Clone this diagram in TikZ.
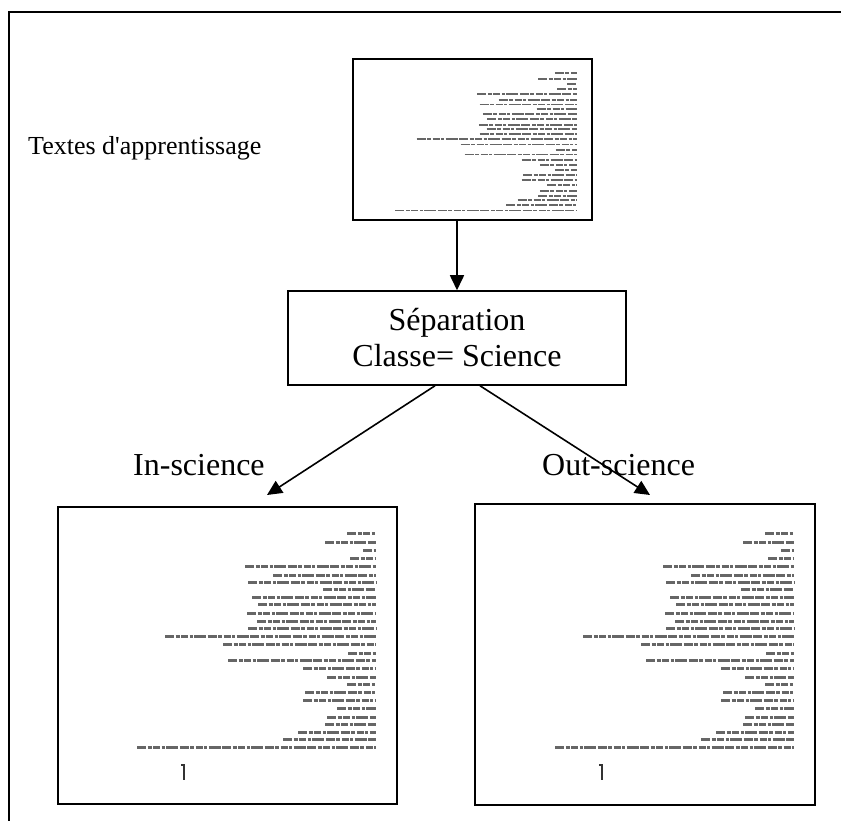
\documentclass[tikz,border=0pt]{standalone}
\usepackage{fontspec}
\setmainfont{Liberation Serif}
\usetikzlibrary{arrows.meta}

\tikzset{
    box/.style={draw, line width=1.5pt, inner sep=0pt},
    arr/.style={-{Triangle[length=15pt,width=14pt]}, line width=1.6pt},
    lbl/.style={anchor=base west, inner sep=0pt, font=\fontsize{32}{36}\selectfont},
    txtline/.style={line width=#1, black!60,
        dash pattern=on 9pt off 1.5pt on 4pt off 1.5pt on 7pt off 1.5pt on 3pt off 1.5pt on 12pt off 1.5pt},
}

% scanned page: right-aligned lines of text, anchored at the right end of the top line
\newcommand\docmarks[1]{%
    \foreach \dy/\len in {0/29, 9/51, 17.3/13, 25/26, 33.3/131, 42.3/103, 49.3/128,
        56.7/53, 64/124, 71.7/118, 80.7/129, 88/119, 95.7/128, 103.3/211, 111.7/153,
        120/28, 127.3/148, 135.7/73, 144/49, 151.3/29, 159.7/71, 167.3/73, 175/39,
        184/49, 191.7/51, 199/78, 206.7/93, 214.7/239}
        \draw[txtline=#1] (-\len,\dy) -- (0,\dy);
}
\newcommand\docglyph{\draw[line width=2.5pt, black!80] (-195,232) -- (-192,232) -- (-192,247);}

\begin{document}
\begin{tikzpicture}[x=1pt, y=-1pt]
    \useasboundingbox (0,0) rectangle (841,821);
    \draw[line width=2pt] (9,821) -- (9,12) -- (841,12);

    \node[box, minimum width=239pt, minimum height=161pt] (topdoc) at (472.5,139.5) {};
    \node[anchor=base west, inner sep=0pt, font=\fontsize{26}{30}\selectfont] (learn) at (28,155) {Textes d\textquotesingle apprentissage};
    \node[box, minimum width=338pt, minimum height=94pt, align=center,
        font=\fontsize{32}{36}\selectfont] (sep) at (457,338) {Séparation\\Classe= Science};

    \node[box, minimum width=339pt, minimum height=297pt] (indoc) at (227.5,655.5) {};
    \node[box, minimum width=340pt, minimum height=301pt] (outdoc) at (645,654.5) {};
    \node[lbl] (inlbl) at (133,475) {In-science};
    \node[lbl] (outlbl) at (542,475) {Out-science};
    \coordinate (intip) at (267,495);
    \coordinate (outtip) at (650,495);

    \draw[arr] (topdoc.south -| sep.north) -- (sep.north);
    \draw[arr] ([xshift=-22pt]sep.south) -- (intip);
    \draw[arr] ([xshift=23pt]sep.south) -- (outtip);

    % page contents
    \begin{scope}[shift={(577,73)}, xscale=0.76, yscale=0.64]
        \docmarks{1.8pt}
    \end{scope}
    \begin{scope}[shift={(376,533)}]
        \docmarks{3pt}
        \docglyph
    \end{scope}
    \begin{scope}[shift={(794,533)}]
        \docmarks{3pt}
        \docglyph
    \end{scope}
\end{tikzpicture}
\end{document}
